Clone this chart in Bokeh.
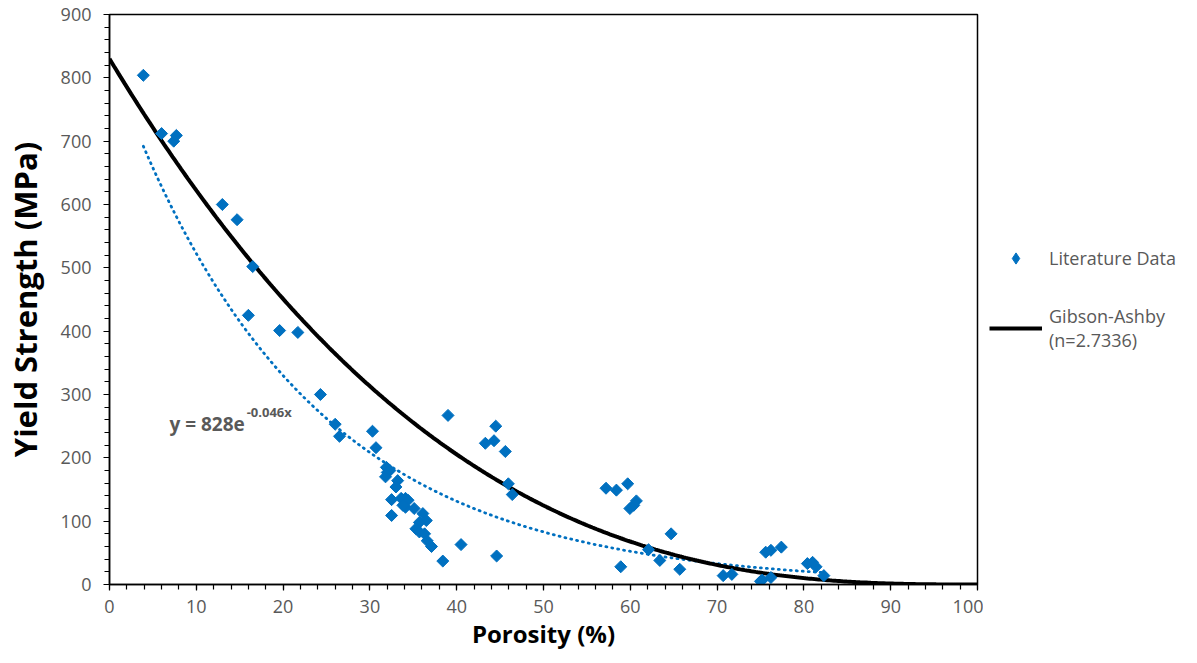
import numpy as np
from bokeh.plotting import figure
from bokeh.layouts import row
from bokeh.models import Range1d, Legend, LegendItem, Label, FixedTicker
from bokeh.embed import file_html
from bokeh.resources import INLINE

# ---- data ----
porosity = [3.9, 6.0, 7.4, 7.7, 13.0, 14.7, 16.5, 16.0, 19.6, 21.7, 24.3, 26.0, 26.5,
            30.3, 30.7, 31.9, 32.0, 31.8, 32.3, 33.2, 33.0, 32.5, 33.6, 34.1, 34.4,
            34.1, 33.8, 32.5, 35.1, 36.1, 36.5, 35.7, 35.3, 35.7, 36.3, 36.6, 37.1,
            38.4, 39.0, 40.5, 43.3, 44.3, 44.5, 44.6, 45.6, 45.95, 46.4, 57.2, 58.4,
            58.9, 59.7, 59.95, 60.4, 60.7, 62.1, 63.4, 64.7, 65.7, 70.7, 71.7, 75.0,
            75.2, 75.6, 76.2, 76.2, 77.4, 80.4, 81.0, 81.4, 82.3]
strength = [804, 712, 700, 709, 600, 576, 502, 425, 401, 398, 300, 253, 234,
            242, 216, 185, 177, 170, 180, 164, 154, 134, 136, 136, 133,
            122, 125, 109, 120, 112, 101, 98, 88, 83, 80, 69, 60,
            37, 267, 63, 223, 227, 250, 45, 210, 159, 142, 152, 149,
            28, 159, 120, 125, 132, 55, 38, 80, 24, 14, 16, 5,
            7, 51, 54, 11, 59, 33, 35, 28, 14]

# Gibson-Ashby model: sigma = C * (1 - p/100)^n
ga_C = 830.0
ga_n = 2.7336
# Excel exponential trendline: y = a * exp(-b x)
fit_a = 828.0
fit_b = 0.046

x_ticks = [0, 10, 20, 30, 40, 50, 60, 70, 80, 90, 100]
y_ticks = [0, 100, 200, 300, 400, 500, 600, 700, 800, 900]

FONT = "Open Sans"
GRAY = "#595959"
BLUE = "#0070C0"
H = 658

p = figure(width=983, height=H, output_backend="svg", toolbar_location=None,
           x_range=Range1d(0, 100), y_range=Range1d(0, 900),
           min_border_left=100, min_border_right=6, min_border_top=14,
           min_border_bottom=74)
p.outline_line_color = "black"
p.outline_line_width = 1.5
p.grid.visible = False
p.background_fill_color = "white"
p.border_fill_color = "white"

for ax, ticks, minor in ((p.xaxis[0], x_ticks, 5), (p.yaxis[0], y_ticks, 5)):
    ax.ticker = FixedTicker(ticks=ticks,
                            minor_ticks=list(np.arange(ticks[0], ticks[-1] + 0.001,
                                                       (ticks[1] - ticks[0]) / minor)))
    ax.axis_line_color = "black"
    ax.axis_line_width = 1.5
    ax.major_tick_line_color = "black"
    ax.minor_tick_line_color = "black"
    ax.major_tick_line_width = 1.2
    ax.minor_tick_line_width = 1.2
    ax.major_tick_in = 0
    ax.major_tick_out = 6
    ax.minor_tick_in = 0
    ax.minor_tick_out = 5
    ax.major_label_text_font = FONT
    ax.major_label_text_font_size = "18px"
    ax.major_label_text_color = GRAY
    ax.axis_label_text_font = FONT
    ax.axis_label_text_font_style = "bold"
    ax.axis_label_text_color = "black"

p.xaxis.axis_label = "Porosity (%)"
p.yaxis.axis_label = "Yield Strength (MPa)"
p.xaxis.axis_label_text_font_size = "24px"
p.yaxis.axis_label_text_font_size = "31px"
p.xaxis.major_label_standoff = 9
p.yaxis.major_label_standoff = 12
p.xaxis.axis_label_standoff = 1
p.yaxis.axis_label_standoff = 12

# Trendline (dotted)
xt = np.linspace(min(porosity), max(porosity), 300)
trend = p.line(xt, fit_a * np.exp(-fit_b * xt), line_color=BLUE, line_width=2.8,
               line_dash="1 5", line_cap="round")

# Gibson-Ashby curve
xg = np.linspace(0, 100, 400)
ga = p.line(xg, ga_C * (1 - xg / 100.0) ** ga_n, line_color="black", line_width=4)

# Literature data
pts = p.scatter(porosity, strength, marker="square", angle=np.pi / 4, size=8.5,
                fill_color=BLUE, line_color=BLUE)

# Trendline equation
p.add_layout(Label(x=6.9, y=254, text="y = 828e", text_font=FONT, text_font_size="19px",
                   text_font_style="bold", text_color=GRAY, text_baseline="alphabetic"))
p.add_layout(Label(x=15.8, y=273, text="-0.046x", text_font=FONT, text_font_size="13px",
                   text_font_style="bold", text_color=GRAY, text_baseline="alphabetic"))

# ---- legend panel (separate figure to the right) ----
lg = figure(width=198, height=H, output_backend="svg", toolbar_location=None,
            x_range=Range1d(0, 1), y_range=Range1d(0, 1),
            x_axis_type=None, y_axis_type=None,
            min_border_left=0, min_border_right=0, min_border_top=0, min_border_bottom=0)
lg.outline_line_color = None
lg.grid.visible = False
lg.background_fill_color = "white"
lg.border_fill_color = "white"
key_pts = lg.scatter([-5], [-5], marker="diamond", fill_color=BLUE, line_color=BLUE)
key_ga = lg.line([-5, -4], [-5, -4], line_color="black", line_width=4)

legend = Legend(items=[LegendItem(label="Literature Data", renderers=[key_pts]),
                       LegendItem(label="Gibson-Ashby\n(n=2.7336)", renderers=[key_ga])],
                location=(6, 232), orientation="vertical",
                label_text_font=FONT, label_text_font_size="18px",
                label_text_color=GRAY, glyph_width=53, glyph_height=28,
                label_standoff=7, spacing=32, padding=0, margin=0,
                border_line_color=None, background_fill_alpha=0)
lg.add_layout(legend)

layout = row(p, lg, spacing=0)
open("out.html", "w").write(file_html(layout, INLINE))
